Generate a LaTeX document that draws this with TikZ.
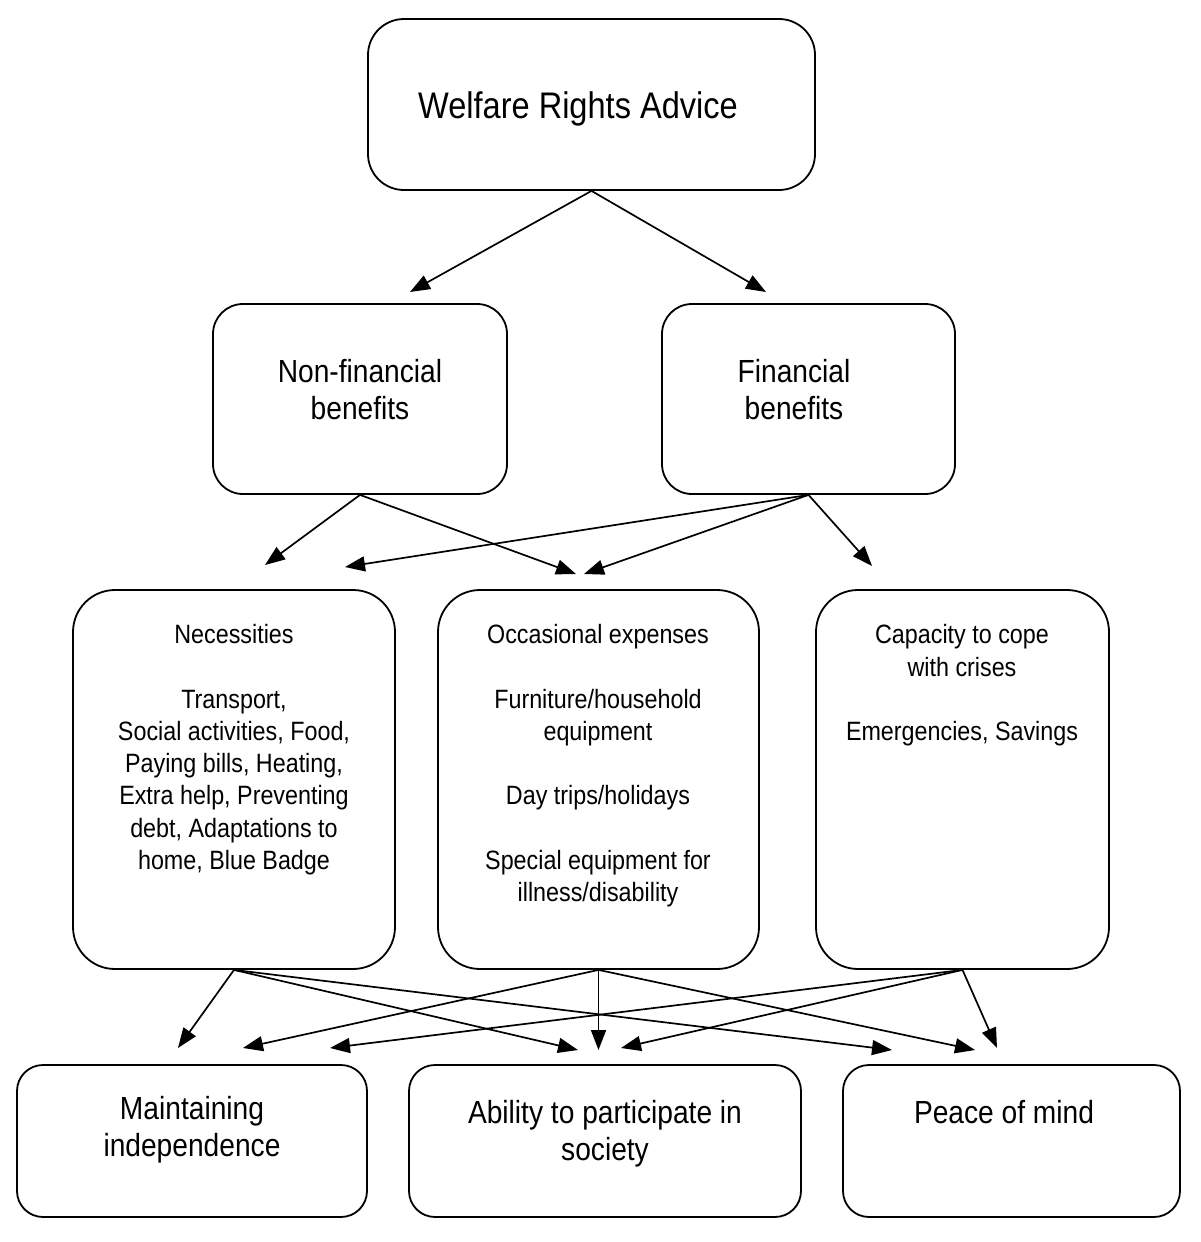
\documentclass[tikz,border=0pt]{standalone}
\usepackage{fontspec}
\setmainfont{Liberation Sans}[FakeStretch=0.88]
\usetikzlibrary{arrows.meta}
\begin{document}
\begin{tikzpicture}[x=1pt,y=-1pt,
  box/.style={draw, line width=1.8pt, rounded corners=#1, inner sep=0pt},
  txt/.style={anchor=north, align=center, inner sep=0pt},
  big/.style={font=\fontsize{37}{44}\selectfont},
  mid/.style={font=\fontsize{32}{37}\selectfont},
  sml/.style={font=\fontsize{26.5}{32.2}\selectfont},
  arr/.style={line width=1.7pt, -{Triangle[length=20pt,width=15pt]}}]
\useasboundingbox (0,0) rectangle (1200,1242);
% boxes
\node[box=36, minimum width=447, minimum height=171] (top) at (591.5,104.5) {};
\node[box=30, minimum width=294, minimum height=190] (nonfin) at (360,399) {};
\node[box=30, minimum width=293, minimum height=190] (fin) at (808.5,399) {};
\node[box=42, minimum width=322, minimum height=379] (nec) at (234,779.5) {};
\node[box=42, minimum width=321, minimum height=379] (occ) at (598.5,779.5) {};
\node[box=42, minimum width=293, minimum height=379] (cap) at (962.5,779.5) {};
\node[box=26, minimum width=350, minimum height=152] (maint) at (192,1141) {};
\node[box=26, minimum width=392, minimum height=152] (abil) at (605,1141) {};
\node[box=26, minimum width=337, minimum height=152] (peace) at (1011.5,1141) {};
% texts
\node[txt,big] (topT) at (578,91.5) {Welfare Rights Advice};
\node[txt,mid] (nonfinT) at (360,359.5) {Non-financial\\benefits};
\node[txt,mid] (finT) at (794,359.5) {Financial\\benefits};
\node[txt,sml] (necT) at (234,624.5) {Necessities\\\mbox{}\\Transport,\\Social activities, Food,\\Paying bills, Heating,\\Extra help, Preventing\\debt, Adaptations to\\home, Blue Badge};
\node[txt,sml] (occT) at (598,624.5) {Occasional expenses\\\mbox{}\\Furniture/household\\equipment\\\mbox{}\\Day trips/holidays\\\mbox{}\\Special equipment for\\illness/disability};
\node[txt,sml] (capT) at (962,624.5) {Capacity to cope\\with crises\\\mbox{}\\Emergencies, Savings};
\node[txt,mid] (maintT) at (192,1096.5) {Maintaining\\independence};
\node[txt,mid] (abilT) at (605,1100.5) {Ability to participate in\\society};
\node[txt,mid] (peaceT) at (1004,1100.5) {Peace of mind};
% arrow ends
\coordinate (t1) at (410,292);
\coordinate (t2) at (766,292);
\coordinate (n1) at (265,565);
\coordinate (n2) at (576,574);
\coordinate (f1) at (345,567);
\coordinate (f2) at (584,574);
\coordinate (f3) at (872,566);
\coordinate (a1) at (178,1048);
\coordinate (a2) at (578,1050);
\coordinate (a3) at (892,1050);
\coordinate (b1) at (243,1048);
\coordinate (b2) at (598.5,1050);
\coordinate (b3) at (975,1050);
\coordinate (c1) at (330,1048);
\coordinate (c2) at (621,1048);
\coordinate (c3) at (997,1048);
% connectors
\draw[arr] (top.south) -- (t1);
\draw[arr] (top.south) -- (t2);
\draw[arr] (nonfin.south) -- (n1);
\draw[arr] (nonfin.south) -- (n2);
\draw[arr] (fin.south) -- (f1);
\draw[arr] (fin.south) -- (f2);
\draw[arr] (fin.south) -- (f3);
\draw[arr] (nec.south) -- (a1);
\draw[arr] (nec.south) -- (a2);
\draw[arr] (nec.south) -- (a3);
\draw[arr] (occ.south) -- (b1);
\draw[arr] (occ.south) -- (b2);
\draw[arr] (occ.south) -- (b3);
\draw[arr] (cap.south) -- (c1);
\draw[arr] (cap.south) -- (c2);
\draw[arr] (cap.south) -- (c3);
\end{tikzpicture}
\end{document}
